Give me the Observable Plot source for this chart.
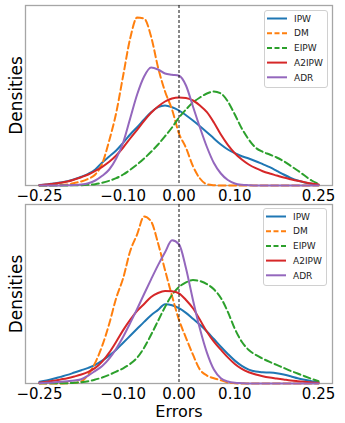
<!DOCTYPE html>
<html>
<head>
<meta charset="utf-8">
<script src="https://cdn.jsdelivr.net/npm/d3@7"></script>
<script src="https://cdn.jsdelivr.net/npm/@observablehq/plot@0.6"></script>
<style>
  html, body { margin: 0; padding: 0; background: #fff; }
  #wrap { position: relative; width: 345px; height: 423px; overflow: hidden; }
  #wrap svg { position: absolute; }
</style>
</head>
<body>
<div id="wrap"></div>
<script>
// ---- data ----
const names = ["IPW", "DM", "EIPW", "A2IPW", "ADR"];
const colors = ["#1f77b4", "#ff7f0e", "#2ca02c", "#d62728", "#9467bd"];
const dashed = [false, true, true, false, false];
const tickValues = [-0.25, -0.10, 0.00, 0.10, 0.25];
const xLabel = "Errors";
const yLabel = "Densities";

const xs = [-0.25, -0.2375, -0.225, -0.2125, -0.2, -0.1875, -0.175, -0.1625, -0.15, -0.1375,
  -0.125, -0.1125, -0.1, -0.0875, -0.075, -0.0625, -0.05, -0.0375, -0.025, -0.0125,
  0, 0.0125, 0.025, 0.0375, 0.05, 0.0625, 0.075, 0.0875, 0.1, 0.1125,
  0.125, 0.1375, 0.15, 0.1625, 0.175, 0.1875, 0.2, 0.2125, 0.225, 0.2375, 0.25];

// top panel densities
const ipwTop = [0.05,0.1,0.2,0.3,0.43,0.63,0.87,1.17,1.6,2.3,2.9,3.5,4.27,5.1,5.83,6.6,7.33,7.83,8.0,7.83,7.5,7.03,6.5,5.93,5.33,4.7,4.1,3.6,3.23,2.93,2.7,2.43,2.13,1.83,1.47,1.1,0.77,0.5,0.3,0.17,0.07];
const dmTop = [0,0,0.03,0.07,0.1,0.25,0.4,0.67,1.1,2.2,4.5,7.27,11.0,14.7,16.8,16.7,14.9,11.8,9.4,7.6,5.2,3.77,1.93,0.7,0.13,0.03,0,0,0,0,0,0,0,0,0,0,0,0,0,0,0];
const eipwTop = [0,0,0,0.01,0.01,0.02,0.03,0.07,0.13,0.27,0.47,0.73,1.1,1.57,2.1,2.7,3.37,4.1,4.93,5.8,6.8,7.6,8.3,8.8,9.2,9.4,9.2,8.4,7.1,5.7,4.6,3.77,3.37,3.1,2.8,2.43,1.97,1.5,1.0,0.5,0.17];
const a2ipwTop = [0.03,0.1,0.17,0.27,0.4,0.6,0.83,1.1,1.47,1.87,2.37,3.0,3.8,4.7,5.57,6.47,7.27,7.9,8.4,8.7,8.8,8.75,8.5,8.0,7.33,6.3,5.1,4.07,3.23,2.6,2.1,1.73,1.43,1.2,1.0,0.8,0.63,0.47,0.33,0.2,0.1];
const adrTop = [0,0,0,0.01,0.03,0.05,0.1,0.23,0.5,0.97,1.6,2.7,4.3,6.7,9.1,10.9,11.8,11.6,11.2,11.07,10.97,10.0,7.9,5.8,3.85,2.25,1.2,0.55,0.2,0.07,0.03,0,0,0,0,0,0,0,0,0,0];

// bottom panel densities
const ipwBot = [0.17,0.3,0.47,0.67,0.87,1.1,1.33,1.57,1.87,2.3,2.8,3.4,4.1,4.8,5.5,6.2,6.87,7.4,7.97,7.87,7.57,7.1,6.5,5.9,5.23,4.47,3.7,2.97,2.3,1.77,1.4,1.2,1.13,1.1,1.03,0.9,0.73,0.53,0.37,0.23,0.13];
const dmBot = [0,0,0,0,0.03,0.07,0.2,0.9,2.1,3.8,6.0,8.6,10.6,13.3,15.0,16.8,16.3,14.1,11.4,8.8,6.4,4.6,2.9,1.4,0.8,0.53,0.33,0.1,0.03,0,0,0,0,0,0,0,0,0,0,0,0];
const eipwBot = [0.03,0.03,0.03,0.03,0.03,0.07,0.13,0.23,0.4,0.6,0.87,1.2,1.53,1.97,2.6,3.6,4.9,6.3,7.7,8.9,9.7,10.17,10.4,10.3,10.0,9.47,8.6,7.2,5.5,4.2,3.37,2.87,2.5,2.17,1.87,1.57,1.27,1.0,0.73,0.47,0.23];
const a2ipwBot = [0.07,0.17,0.27,0.4,0.53,0.7,0.9,1.17,1.57,2.2,3.1,4.2,5.37,6.4,7.3,8.0,8.7,9.1,9.3,9.27,9.07,8.4,7.57,6.4,5.2,4.2,3.4,2.63,1.97,1.47,1.13,0.9,0.73,0.6,0.5,0.4,0.3,0.23,0.17,0.1,0.07];
const adrBot = [0.03,0.07,0.1,0.17,0.23,0.3,0.43,0.8,1.27,1.77,2.5,3.5,4.7,6.07,7.5,9.0,10.47,11.9,13.2,14.4,14.0,11.6,8.4,5.5,3.1,1.4,0.53,0.2,0.07,0.03,0,0,0,0,0,0,0,0,0,0,0];

const topSeries = [ipwTop, dmTop, eipwTop, a2ipwTop, adrTop];
const botSeries = [ipwBot, dmBot, eipwBot, a2ipwBot, adrBot];

const wrap = document.getElementById("wrap");

function panel(series, opts) {
  const rows = names.flatMap((n, i) => xs.map((x, j) => ({x, y: series[i][j], s: n})));
  const marks = [
    Plot.frame({stroke: "#a6a6a6", strokeWidth: 1.3}),
    ...names.map((n, i) => Plot.line(rows.filter(r => r.s === n), {
      x: "x", y: "y", stroke: colors[i], strokeWidth: 2,
      strokeDasharray: dashed[i] ? "7,3.5" : undefined, curve: "monotone-x"
    })),
    Plot.ruleX([0], {stroke: "#111", strokeWidth: 1, strokeDasharray: "3,2"}),
    Plot.axisX({ticks: tickValues, tickFormat: d3.format(".2f"), tickSize: 0, tickPadding: 5, label: null, fontSize: 15}),
    Plot.text([yLabel], {frameAnchor: "left", rotate: -90, dx: -4, textAnchor: "middle", lineAnchor: "bottom", fontSize: 17, fill: "black"})
  ];
  if (opts.xlabel) {
    marks.push(Plot.text([xLabel], {frameAnchor: "bottom", dy: 33.5, lineAnchor: "bottom", fontSize: 16, fill: "black"}));
  }
  const svg = Plot.plot({
    width: 345, height: opts.height,
    marginTop: opts.marginTop, marginBottom: opts.marginBottom,
    marginLeft: 25, marginRight: 13,
    x: {domain: [-0.275, 0.275]},
    y: {domain: [0, 18], axis: null},
    style: {fontFamily: "DejaVu Sans", color: "black", background: "transparent", overflow: "visible"},
    marks
  });
  svg.style.left = "0px";
  svg.style.top = opts.top + "px";
  return svg;
}

function legend(left, top) {
  const ns = "http://www.w3.org/2000/svg";
  const svg = document.createElementNS(ns, "svg");
  svg.setAttribute("width", 65);
  svg.setAttribute("height", 79);
  svg.style.left = left + "px";
  svg.style.top = top + "px";
  const rect = document.createElementNS(ns, "rect");
  Object.entries({x: 0.5, y: 0.5, width: 63, height: 77, rx: 2.5, fill: "white", "fill-opacity": 0.8, stroke: "#d0d0d0", "stroke-width": 1})
    .forEach(([k, v]) => rect.setAttribute(k, v));
  svg.appendChild(rect);
  names.forEach((n, i) => {
    const cy = 8.5 + i * 14.7;
    const line = document.createElementNS(ns, "line");
    Object.entries({x1: 3, x2: 23, y1: cy, y2: cy, stroke: colors[i], "stroke-width": 2})
      .forEach(([k, v]) => line.setAttribute(k, v));
    if (dashed[i]) line.setAttribute("stroke-dasharray", "5,2.5");
    svg.appendChild(line);
    const t = document.createElementNS(ns, "text");
    Object.entries({x: 30, y: cy + 3.2, "font-size": 9, "font-family": "DejaVu Sans", fill: "#222"})
      .forEach(([k, v]) => t.setAttribute(k, v));
    t.textContent = n;
    svg.appendChild(t);
  });
  return svg;
}

wrap.appendChild(panel(topSeries, {height: 203, marginTop: 5, marginBottom: 18, top: 0, xlabel: false}));
wrap.appendChild(panel(botSeries, {height: 220, marginTop: 1, marginBottom: 40, top: 203, xlabel: true}));
wrap.appendChild(legend(264, 10));
wrap.appendChild(legend(263, 208));
</script>
</body>
</html>
